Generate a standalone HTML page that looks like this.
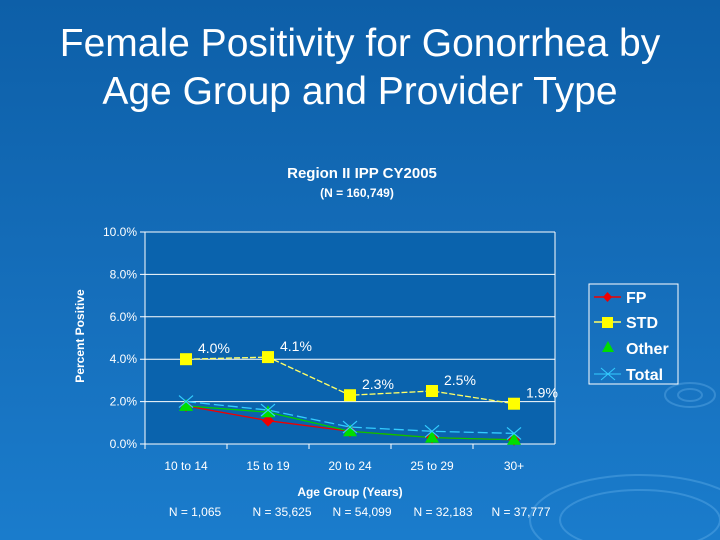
<!DOCTYPE html>
<html><head><meta charset="utf-8"><style>
body{margin:0;width:720px;height:540px;overflow:hidden;background:linear-gradient(180deg,#0d5fa8 0%,#1670bd 60%,#1a7ccc 100%);font-family:"Liberation Sans",sans-serif;color:#fff}
.t{position:absolute;width:720px;text-align:center}
</style></head><body>
<div class="t" style="top:20px;font-size:39px;line-height:48px">Female Positivity for Gonorrhea by<br>Age Group and Provider Type</div>
<svg width="720" height="540" style="position:absolute;left:0;top:0" font-family="Liberation Sans, sans-serif">
<g opacity="0.25" fill="none" stroke="#8fd0ff" stroke-width="2"><ellipse cx="690" cy="395" rx="25" ry="12"/><ellipse cx="690" cy="395" rx="12" ry="6"/><ellipse cx="640" cy="520" rx="110" ry="45"/><ellipse cx="640" cy="520" rx="80" ry="30"/></g>
<text x="362" y="178" text-anchor="middle" font-size="15" font-weight="bold" fill="#fff">Region II IPP CY2005</text>
<text x="357" y="197" text-anchor="middle" font-size="12" font-weight="bold" fill="#fff">(N = 160,749)</text>
<rect x="145" y="232" width="410" height="212" fill="#0a63ad"/>
<g id="grid"></g><g id="series"></g>
<text transform="translate(84,336) rotate(-90)" text-anchor="middle" font-size="12" font-weight="bold" fill="#fff">Percent Positive</text>
<text x="350" y="496" text-anchor="middle" font-size="12" font-weight="bold" fill="#fff">Age Group (Years)</text>
<g id="ns" font-size="12" fill="#fff"></g>
<g>
<rect x="589" y="284" width="89" height="100" fill="none" stroke="#fff" stroke-width="1"/>
<g><line x1="594" y1="297" x2="621" y2="297" stroke="#e00" stroke-width="1.5"/><path d="M607.5 292 L612 297 L607.5 302 L603 297Z" fill="#e00"/><text x="626" y="303" font-size="16" font-weight="bold" fill="#fff">FP</text></g>
<g><line x1="594" y1="322" x2="621" y2="322" stroke="#ffff66" stroke-width="1.5"/><rect x="602" y="317" width="11" height="11" fill="#ff0"/><text x="626" y="328" font-size="16" font-weight="bold" fill="#fff">STD</text></g>
<g><path d="M608 341 L614 352 L602 352Z" fill="#0d0"/><text x="626" y="354" font-size="16" font-weight="bold" fill="#fff">Other</text></g>
<g><line x1="594" y1="374" x2="621" y2="374" stroke="#3cf" stroke-width="1"/><path d="M601 368 L615 380 M615 368 L601 380" stroke="#3cf" stroke-width="1"/><text x="626" y="380" font-size="16" font-weight="bold" fill="#fff">Total</text></g>
</g>
</svg>
<script>
const categories=["10 to 14","15 to 19","20 to 24","25 to 29","30+"];
const nLabels=["N = 1,065","N = 35,625","N = 54,099","N = 32,183","N = 37,777"];
const yTicks=[0,2,4,6,8,10];
const fp=[1.8,1.1,0.6,0.3,0.2];
const std=[4.0,4.1,2.3,2.5,1.9];
const other=[1.8,1.5,0.6,0.3,0.2];
const total=[2.0,1.6,0.8,0.6,0.5];
const NS="http://www.w3.org/2000/svg";
const X0=145,X1=555,Y0=444,Y1=232;
const xs=i=>X0+(i+0.5)*(X1-X0)/categories.length;
const ys=v=>Y0-(v/10)*(Y0-Y1);
function mk(t,a,p){const e=document.createElementNS(NS,t);for(const k in a)e.setAttribute(k,a[k]);p.appendChild(e);return e;}
const g=document.getElementById('grid');
yTicks.forEach(v=>{
 const l=mk('line',{x1:X0-5,x2:X1,y1:ys(v),y2:ys(v),stroke:'#fff','stroke-width':1},g);
 
 
 const t=mk('text',{x:X0-8,y:ys(v)+4,'text-anchor':'end','font-size':12,fill:'#fff'},g);
 t.textContent=v.toFixed(1)+'%';
 
 
});
mk('line',{x1:X0,x2:X0,y1:Y1,y2:Y0,stroke:'#fff'},g);
mk('line',{x1:X1,x2:X1,y1:Y1,y2:Y0,stroke:'#fff'},g);
categories.forEach((c,i)=>{
 mk('line',{x1:X0+i*82,x2:X0+i*82,y1:Y0,y2:Y0+5,stroke:'#fff'},g);
 const t=mk('text',{x:xs(i),y:470,'text-anchor':'middle','font-size':12,fill:'#fff'},g);
 t.textContent=c;
 
 
 const n=mk('text',{x:xs(i)+[9,14,12,11,7][i],y:516,'text-anchor':'middle'},document.getElementById('ns'));
 n.textContent=nLabels[i];
 
 
});
const s=document.getElementById('series');
function line(arr,col,dash,name){
 const p=mk('polyline',{points:arr.map((v,i)=>xs(i)+','+ys(v)).join(' '),fill:'none',stroke:col,'stroke-width':1.3,'stroke-dasharray':dash},s);
 
 
}
line(fp,'#e00','','fp-line');
line(total,'#3cf','10 4','total-line');
line(other,'#0c0','','other-line');
line(std,'#ffff66','6 2','std-line');
fp.forEach((v,i)=>{const m=mk('path',{d:`M${xs(i)} ${ys(v)-6}L${xs(i)+6} ${ys(v)}L${xs(i)} ${ys(v)+6}L${xs(i)-6} ${ys(v)}Z`,fill:'#e00'},s);});
other.forEach((v,i)=>{const m=mk('path',{d:`M${xs(i)} ${ys(v)-7}L${xs(i)+7} ${ys(v)+5}L${xs(i)-7} ${ys(v)+5}Z`,fill:'#0d0'},s);});
total.forEach((v,i)=>{const m=mk('path',{d:`M${xs(i)-7} ${ys(v)-6}L${xs(i)+7} ${ys(v)+6}M${xs(i)+7} ${ys(v)-6}L${xs(i)-7} ${ys(v)+6}`,stroke:'#3cf','stroke-width':1.2},s);});
std.forEach((v,i)=>{
 const m=mk('rect',{x:xs(i)-6,y:ys(v)-6,width:12,height:12,fill:'#ff0'},s);
 
 
 const t=mk('text',{x:xs(i)+12,y:ys(v)-6,'font-size':14,fill:'#fff'},s);
 t.textContent=v.toFixed(1)+'%';
 
 
});
</script>
</body></html>
